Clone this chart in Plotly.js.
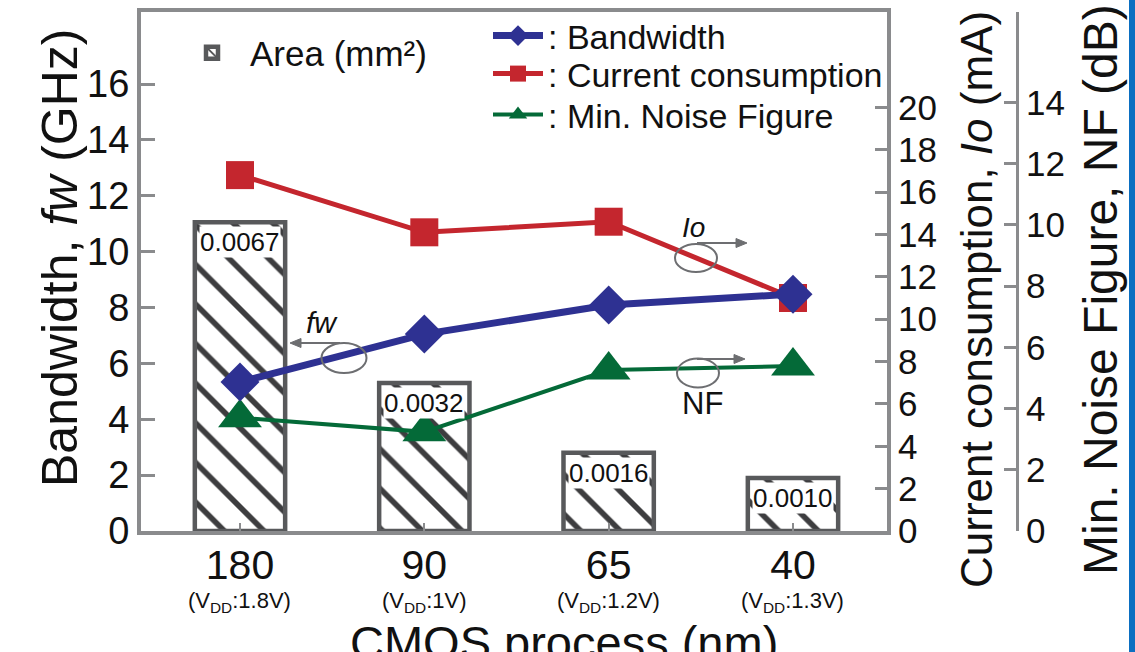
<!DOCTYPE html>
<html>
<head>
<meta charset="utf-8">
<script src="https://cdn.plot.ly/plotly-3.0.1.min.js"></script>
<style>html,body{margin:0;padding:0;background:#fff;}#chart{width:1135px;height:652px;}</style>
</head>
<body>
<div id="chart"></div>
<script>
// ---- data ----
const processNodes = ['180', '90', '65', '40'];
const vddLabels = ['(V<sub>DD</sub>:1.8V)', '(V<sub>DD</sub>:1V)', '(V<sub>DD</sub>:1.2V)', '(V<sub>DD</sub>:1.3V)'];
const areaText = ['0.0067', '0.0032', '0.0016', '0.0010'];          // mm²
const areaBarHeight = [11.05, 5.3, 2.8, 1.9];                        // bar height as drawn on the left axis
const bandwidth = [5.33, 7.05, 8.09, 8.48];                          // GHz
const currentMA = [16.8, 14.1, 14.6, 11.0];                          // mA
const noiseFigure = [3.7, 3.24, 5.26, 5.39];                         // dB
const leftTicks = [0, 2, 4, 6, 8, 10, 12, 14, 16];
const currentTicks = [0, 2, 4, 6, 8, 10, 12, 14, 16, 18, 20];
const nfTicks = [0, 2, 4, 6, 8, 10, 12, 14];

// ---- layout geometry (pixels) ----
const ML = 141, MR = 105, MT = 12, MB = 121;
const PW = 1135 - ML - MR, PH = 652 - MT - MB;
const px = x => (x - ML) / PW;
const py = y => (652 - MB - y) / PH;

const FONT = 'Liberation Sans, Arial, Helvetica, sans-serif';
const AXC = '#8a8b8d';
const PTR = '#6d6e71';
const C_BLUE = '#2e3192', C_RED = '#c4262e', C_GREEN = '#046a38';

const traces = [
  {
    type: 'bar', x: processNodes, y: areaBarHeight, name: 'Area (mm²)',
    width: 0.49, legend: 'legend2',
    marker: {color: '#ffffff', line: {color: '#58595b', width: 4.5},
             pattern: {shape: '\\', fgcolor: '#3d3d3f', bgcolor: '#ffffff', size: 28, solidity: 0.2}},
    hoverinfo: 'skip'
  },
  {
    type: 'scatter', mode: 'lines+markers', x: processNodes, y: noiseFigure, yaxis: 'y3',
    name: ': Min. Noise Figure', legend: 'legend4',
    line: {color: C_GREEN, width: 4}, marker: {symbol: 'triangle-up', size: 38, color: C_GREEN}
  },
  {
    type: 'scatter', mode: 'lines+markers', x: processNodes, y: currentMA, yaxis: 'y2',
    name: ': Current consumption', legend: 'legend3',
    line: {color: C_RED, width: 5}, marker: {symbol: 'square', size: 28, color: C_RED}
  },
  {
    type: 'scatter', mode: 'lines+markers', x: processNodes, y: bandwidth, yaxis: 'y4',
    name: ': Bandwidth', legend: 'legend',
    line: {color: C_BLUE, width: 7}, marker: {symbol: 'diamond', size: 30, color: C_BLUE}
  }
];

const txt = (s, c) => ({family: FONT, size: s, color: c || '#111'});
const annotations = [];
// bar value labels and supply-voltage sub-labels, placed at each category
processNodes.forEach((c, i) => {
  annotations.push({xref: 'x', yref: 'y', x: i, y: areaBarHeight[i], xanchor: 'center', yanchor: 'top', yshift: -4,
    text: areaText[i], showarrow: false, bgcolor: '#ffffff', borderpad: 0, font: txt(26)});
  annotations.push({xref: 'x', yref: 'paper', x: i, y: py(602), xanchor: 'center', yanchor: 'middle',
    text: vddLabels[i], showarrow: false, font: txt(22)});
});
// axis titles
const title = (x, y, text, size, angle) => ({xref: 'paper', yref: 'paper', x: px(x), y: py(y), text: text,
  textangle: angle || 0, xanchor: 'center', yanchor: 'middle', showarrow: false, font: txt(size)});
annotations.push(title(564, 642, 'CMOS process (nm)', 47));
annotations.push(title(60, 258, 'Bandwidth, <i>fw</i> (GHz)', 50, -90));
annotations.push(title(977, 300, 'Current consumption, <i>Io</i> (mA)', 44, -90));
annotations.push(title(1100, 290, 'Min. Noise Figure, NF (dB)', 48, -90));
// in-plot axis pointers
annotations.push(title(322, 322, '<i>fw</i>', 30));
annotations.push(title(693, 227, '<i>Io</i>', 28));
annotations.push(title(702, 403, 'NF', 31));

const ellipse = (cx, cy, w, h) => ({type: 'circle', xref: 'paper', yref: 'paper',
  x0: px(cx - w / 2), x1: px(cx + w / 2), y0: py(cy + h / 2), y1: py(cy - h / 2),
  line: {color: PTR, width: 2}});
// horizontal pointer arrow from tail x0 to head x1 at height y
const arrow = (x0, x1, y) => {
  const d = x1 > x0 ? 1 : -1;
  return [
    {type: 'line', xref: 'paper', yref: 'paper', x0: px(x0), x1: px(x1 - d * 6), y0: py(y), y1: py(y),
     line: {color: PTR, width: 2}},
    {type: 'path', xref: 'paper', yref: 'paper', fillcolor: PTR, line: {color: PTR, width: 1},
     path: 'M' + px(x1) + ',' + py(y) + ' L' + px(x1 - d * 11) + ',' + py(y - 4.5) +
           ' L' + px(x1 - d * 11) + ',' + py(y + 4.5) + ' Z'}
  ];
};

const shapes = [
  ellipse(344, 358, 45, 30), ellipse(696, 258, 42, 28), ellipse(698, 373, 42, 29),
  ...arrow(340, 290, 343), ...arrow(697, 747, 243), ...arrow(697, 745, 359),
  {type: 'rect', xref: 'paper', yref: 'paper', x0: px(1129), x1: px(1145), y0: py(-10), y1: py(670),
   fillcolor: '#0b6fc1', line: {width: 0}}
];

const legendAt = (x, y, w, size) => ({
  x: px(x), y: py(y), xanchor: 'left', yanchor: 'middle',
  bgcolor: 'rgba(0,0,0,0)', borderwidth: 0, itemwidth: w, font: txt(size)
});

const layout = {
  width: 1135, height: 652,
  margin: {l: ML, r: MR, t: MT, b: MB, autoexpand: false},
  paper_bgcolor: '#ffffff', plot_bgcolor: '#ffffff',
  font: {family: FONT, color: '#111'},
  showlegend: true,
  xaxis: {
    type: 'category', domain: [0, (887 - ML) / PW], range: [-0.537, 3.51],
    showline: true, linecolor: AXC, linewidth: 4, mirror: true,
    ticks: 'inside', ticklen: 8, tickwidth: 2, tickcolor: AXC, ticklabelstandoff: -5,
    tickfont: txt(41), showgrid: false, zeroline: false, automargin: false, fixedrange: true
  },
  yaxis: {
    range: [0, 18.58], tickvals: leftTicks, ticktext: leftTicks.map(String),
    showline: true, linecolor: AXC, linewidth: 4,
    ticks: 'inside', ticklen: 14, tickwidth: 3, tickcolor: AXC,
    tickfont: txt(38), showgrid: false, zeroline: false, automargin: false
  },
  yaxis2: {
    overlaying: 'y', side: 'right', anchor: 'x', range: [0, 24.5],
    tickvals: currentTicks, ticktext: currentTicks.map(String),
    showline: true, linecolor: AXC, linewidth: 4,
    ticks: 'inside', ticklen: 12, tickwidth: 3, tickcolor: AXC,
    tickfont: txt(35), showgrid: false, zeroline: false, automargin: false
  },
  yaxis3: {
    overlaying: 'y', side: 'right', anchor: 'free', position: (1017 - ML) / PW, range: [0, 16.96],
    tickvals: nfTicks, ticktext: nfTicks.map(String),
    showline: true, linecolor: AXC, linewidth: 3,
    ticks: 'inside', ticklen: 12, tickwidth: 3, tickcolor: AXC,
    tickfont: txt(35), showgrid: false, zeroline: false, automargin: false
  },
  yaxis4: {overlaying: 'y', range: [0, 18.58], visible: false, showgrid: false, zeroline: false},
  legend: legendAt(488, 36, 50, 34),
  legend3: legendAt(488, 74, 50, 34),
  legend4: legendAt(488, 115, 50, 34),
  legend2: legendAt(174, 53, 66, 35),
  annotations: annotations,
  shapes: shapes
};

Plotly.newPlot('chart', traces, layout, {displayModeBar: false, staticPlot: true});
</script>
</body>
</html>
